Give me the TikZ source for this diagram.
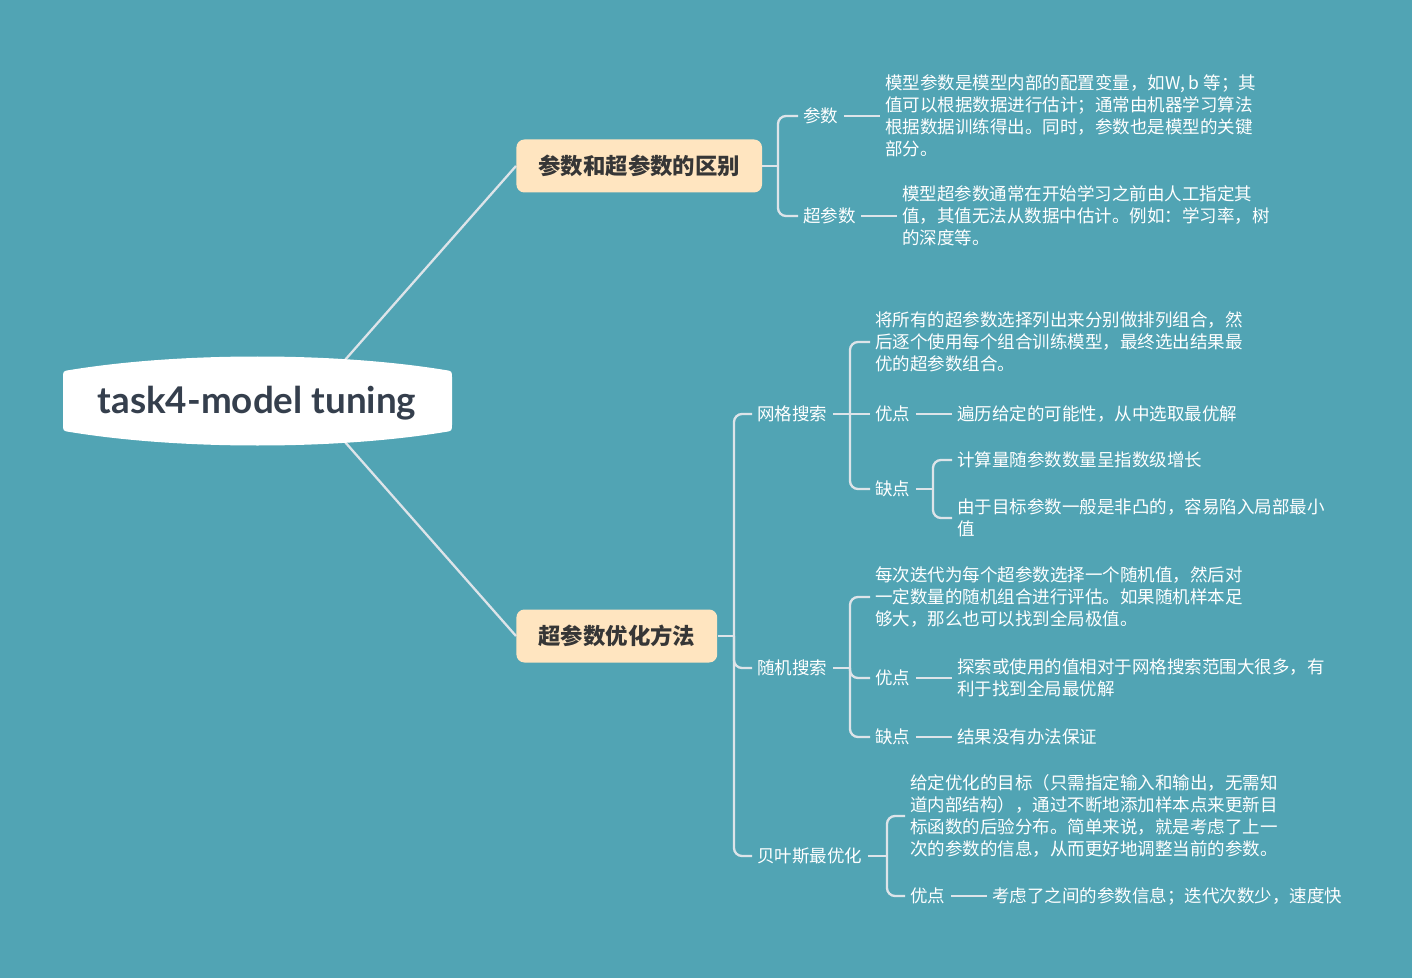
\documentclass[tikz,border=0pt]{standalone}
\usepackage{fontspec}
\usepackage{tikz}
\usetikzlibrary{calc}
\newfontfamily\cjk{Noto Sans CJK SC}
\newfontfamily\rootfont{Lato}
\definecolor{bgteal}{HTML}{51A4B4}
\definecolor{twigc}{HTML}{DDE4E9}
\definecolor{peach}{HTML}{FFE5C0}
\definecolor{ink}{HTML}{363636}
\definecolor{slate}{HTML}{353F4D}
\tikzset{
 twig/.style={draw=twigc, line width=1.15pt, rounded corners=4pt},
 topic/.style={fill=peach, rounded corners=4pt, text=ink, anchor=west, minimum height=26.5pt, inner xsep=11pt,
  font=\cjk\bfseries\fontsize{11.2pt}{13pt}\selectfont},
 leaf/.style={text=white, anchor=west, align=left, inner xsep=2.5pt, inner ysep=1pt,
  font=\cjk\fontsize{8.75pt}{11pt}\selectfont}
}
\newcommand{\fork}[2]{
 \draw[twig] (#1) |- (#2.west);
}
\newcommand{\twigto}[2]{
 \draw[twig] (#1.east) -- (#2.west);
}
\begin{document}
\begin{tikzpicture}[x=0.5pt, y=-0.5pt]
 \fill[bgteal] (0,0) rectangle (1412,978);
%
 \node[topic] (topicA) at (516,166) {参数和超参数的区别};
 \node[topic] (topicB) at (516,636) {超参数优化方法};
%
 \coordinate (rootN) at (345,360);
 \coordinate (rootS) at (345,442);
 \draw[twig] (rootN) -- (topicA.west);
 \draw[twig] (rootS) -- (topicB.west);
 \fill[white] (63,378) .. controls (63,371) .. (70,370) .. controls (180,352) and (335,352) .. (445,370)
  .. controls (452,371) .. (452,378) -- (452,424) .. controls (452,431) .. (445,432)
  .. controls (335,450) and (180,450) .. (70,432) .. controls (63,431) .. (63,424) -- cycle;
 \node[text=slate, font=\rootfont\bfseries\fontsize{18.4pt}{20pt}\selectfont] (root) at (257,403) {task4-model tuning};
%
 \node[leaf] (cs) at (798,116) {参数};
 \node[leaf] (csText) at (880,116) {模型参数是模型内部的配置变量，如W, b 等；其\\值可以根据数据进行估计；通常由机器学习算法\\根据数据训练得出。同时，参数也是模型的关键\\部分。};
 \node[leaf] (ccs) at (798,216) {超参数};
 \node[leaf] (ccsText) at (897,216) {模型超参数通常在开始学习之前由人工指定其\\值，其值无法从数据中估计。例如：学习率，树\\的深度等。};
%
 \node[leaf] (wg) at (752,414) {网格搜索};
 \node[leaf] (wgText) at (870,342) {将所有的超参数选择列出来分别做排列组合，然\\后逐个使用每个组合训练模型，最终选出结果最\\优的超参数组合。};
 \node[leaf] (wgYou) at (870,414) {优点};
 \node[leaf] (wgYouText) at (952,414) {遍历给定的可能性，从中选取最优解};
 \node[leaf] (wgQue) at (870,489) {缺点};
 \node[leaf] (wgQueA) at (952,460) {计算量随参数数量呈指数级增长};
 \node[leaf] (wgQueB) at (952,518) {由于目标参数一般是非凸的，容易陷入局部最小\\值};
%
 \node[leaf] (sj) at (752,668) {随机搜索};
 \node[leaf] (sjText) at (870,597) {每次迭代为每个超参数选择一个随机值，然后对\\一定数量的随机组合进行评估。如果随机样本足\\够大，那么也可以找到全局极值。};
 \node[leaf] (sjYou) at (870,678) {优点};
 \node[leaf] (sjYouText) at (952,678) {探索或使用的值相对于网格搜索范围大很多，有\\利于找到全局最优解};
 \node[leaf] (sjQue) at (870,737) {缺点};
 \node[leaf] (sjQueText) at (952,737) {结果没有办法保证};
%
 \node[leaf] (by) at (752,856) {贝叶斯最优化};
 \node[leaf] (byText) at (905,816) {给定优化的目标（只需指定输入和输出，无需知\\道内部结构），通过不断地添加样本点来更新目\\标函数的后验分布。简单来说，就是考虑了上一\\次的参数的信息，从而更好地调整当前的参数。};
 \node[leaf] (byYou) at (905,896) {优点};
 \node[leaf] (byYouText) at (987,896) {考虑了之间的参数信息；迭代次数少，速度快};
%
 \coordinate (forkA) at (778,166);
 \draw[twig] (topicA.east) -- (forkA);
 \fork{forkA}{cs}
 \fork{forkA}{ccs}
 \twigto{cs}{csText}
 \twigto{ccs}{ccsText}
%
 \coordinate (forkB) at (734,636);
 \draw[twig] (topicB.east) -- (forkB);
 \fork{forkB}{wg}
 \fork{forkB}{sj}
 \fork{forkB}{by}
%
 \coordinate (forkWg) at (850,414);
 \draw[twig] (wg.east) -- (forkWg);
 \fork{forkWg}{wgText}
 \draw[twig] (forkWg) -- (wgYou.west);
 \fork{forkWg}{wgQue}
 \twigto{wgYou}{wgYouText}
 \coordinate (forkQue) at (933,489);
 \draw[twig] (wgQue.east) -- (forkQue);
 \fork{forkQue}{wgQueA}
 \fork{forkQue}{wgQueB}
%
 \coordinate (forkSj) at (850,668);
 \draw[twig] (sj.east) -- (forkSj);
 \fork{forkSj}{sjText}
 \fork{forkSj}{sjYou}
 \fork{forkSj}{sjQue}
 \twigto{sjYou}{sjYouText}
 \twigto{sjQue}{sjQueText}
%
 \coordinate (forkBy) at (887,856);
 \draw[twig] (by.east) -- (forkBy);
 \fork{forkBy}{byText}
 \fork{forkBy}{byYou}
 \twigto{byYou}{byYouText}
\end{tikzpicture}
\end{document}
